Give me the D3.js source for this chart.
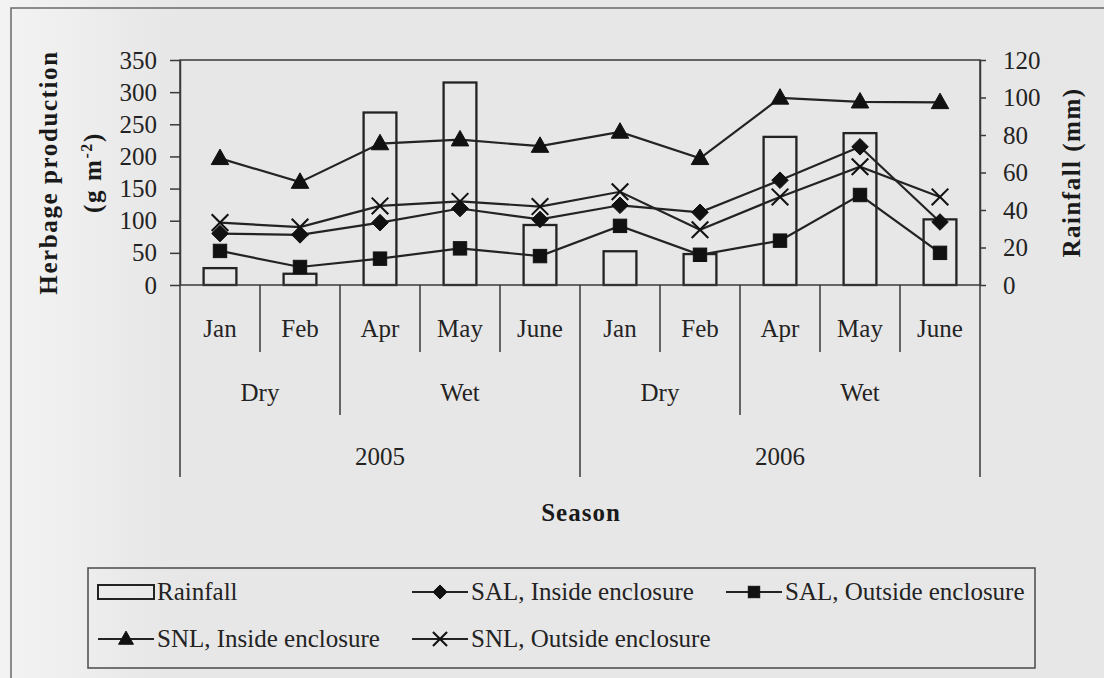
<!DOCTYPE html>
<html>
<head>
<meta charset="utf-8">
<script src="https://cdn.jsdelivr.net/npm/d3@7"></script>
<style>
  html, body { margin: 0; padding: 0; background: #e7e7e7; }
  svg { display: block; }
</style>
</head>
<body>
<svg id="chart" width="1104" height="678"></svg>
<script>
// ---- data ----
const months = ["Jan", "Feb", "Apr", "May", "June", "Jan", "Feb", "Apr", "May", "June"];
const seasonLabels = ["Dry", "Wet", "Dry", "Wet"];
const seasonSpans = [2, 3, 2, 3];
const yearLabels = ["2005", "2006"];
const yearSpans = [5, 5];

// rainfall (mm), right axis
const rainfall = [9, 6, 92, 108, 32, 18, 16.5, 79, 81, 35];
// herbage production (g m-2), left axis
const salInside  = [80, 78, 97, 119, 102, 124, 113, 163, 215, 98];
const salOutside = [53, 28, 41, 57, 45, 92, 47, 69, 140, 50];
const snlInside  = [197, 160, 220, 226, 216, 238, 197, 291, 285, 284];
const snlOutside = [97, 90, 123, 130, 122, 145, 86, 137, 184, 137];

const leftTicks = [0, 50, 100, 150, 200, 250, 300, 350];
const rightTicks = [0, 20, 40, 60, 80, 100, 120];
const seriesNames = ["SAL, Inside enclosure", "SAL, Outside enclosure", "SNL, Inside enclosure", "SNL, Outside enclosure"];

// ---- layout ----
const W = 1104, H = 678;
const plot = { left: 180, right: 980, top: 60, bottom: 285 };
const FONT = "'Liberation Serif', 'Times New Roman', serif";
const INK = "#232323";

const svg = d3.select("#chart");
const defs = svg.append("defs");

const fade = defs.append("linearGradient").attr("id", "leftFade")
  .attr("x1", "0").attr("x2", "1").attr("y1", "0").attr("y2", "0");
fade.append("stop").attr("offset", "0").attr("stop-color", "#f3f3f3").attr("stop-opacity", 1);
fade.append("stop").attr("offset", "0.4").attr("stop-color", "#f0f0f0").attr("stop-opacity", 0.8);
fade.append("stop").attr("offset", "1").attr("stop-color", "#e7e7e7").attr("stop-opacity", 0);

// background
svg.append("rect").attr("width", W).attr("height", H).attr("fill", "#e7e7e7");
svg.append("rect").attr("x", 0).attr("y", 0).attr("width", 200).attr("height", H)
  .attr("fill", "url(#leftFade)");

// outer frame of the figure
svg.append("path")
  .attr("d", `M11,${H} L11,8 L${W},8`)
  .attr("fill", "none").attr("stroke", "#6a6a6a").attr("stroke-width", 1.5);

// ---- scales ----
const x = d3.scaleBand().domain(d3.range(months.length)).range([plot.left, plot.right]).padding(0);
const bw = x.bandwidth();
const cx = i => x(i) + bw / 2;
const yL = d3.scaleLinear().domain([0, 350]).range([plot.bottom, plot.top]);
const yR = d3.scaleLinear().domain([0, 120]).range([plot.bottom, plot.top]);

// ---- rainfall bars ----
const barW = bw * 0.41;
svg.append("g").selectAll("rect").data(rainfall).join("rect")
  .attr("x", (d, i) => cx(i) - barW / 2)
  .attr("y", d => yR(d))
  .attr("width", barW)
  .attr("height", d => yR(0) - yR(d))
  .attr("fill", "none")
  .attr("stroke", INK).attr("stroke-width", 2.3);

// plot frame
svg.append("rect")
  .attr("x", plot.left).attr("y", plot.top)
  .attr("width", plot.right - plot.left).attr("height", plot.bottom - plot.top)
  .attr("fill", "none").attr("stroke", "#3a3a3a").attr("stroke-width", 1.5);

// ---- axes ----
function styleAxis(g) {
  g.select(".domain").attr("stroke", "#3a3a3a").attr("stroke-width", 1.5);
  g.selectAll(".tick line").attr("stroke", "#3a3a3a").attr("stroke-width", 1.5);
  g.selectAll(".tick text").attr("font-family", FONT).attr("font-size", 25).attr("fill", INK);
}
svg.append("g").attr("transform", `translate(${plot.left},0)`)
  .call(d3.axisLeft(yL).tickValues(leftTicks).tickSize(10).tickSizeOuter(0).tickPadding(13))
  .call(styleAxis);
svg.append("g").attr("transform", `translate(${plot.right},0)`)
  .call(d3.axisRight(yR).tickValues(rightTicks).tickSize(6).tickSizeOuter(0).tickPadding(17))
  .call(styleAxis);

// ---- markers ----
function marker(g, kind, px, py, s = 1) {
  if (kind === "triangle") {
    const h = 15.5 * s, w = 17.5 * s;
    g.append("path").attr("d", `M${px},${py - h * 0.6} L${px + w / 2},${py + h * 0.4} L${px - w / 2},${py + h * 0.4} Z`)
      .attr("fill", "#111").attr("stroke", "#111").attr("stroke-width", 1);
  } else if (kind === "diamond") {
    const r = 8.3 * s;
    g.append("path").attr("d", `M${px},${py - r} L${px + r},${py} L${px},${py + r} L${px - r},${py} Z`)
      .attr("fill", "#111").attr("stroke", "#111").attr("stroke-width", 1);
  } else if (kind === "square") {
    const r = 6.7 * s;
    g.append("rect").attr("x", px - r).attr("y", py - r).attr("width", 2 * r).attr("height", 2 * r)
      .attr("fill", "#111").attr("stroke", "#111").attr("stroke-width", 1);
  } else if (kind === "x") {
    const r = 8.3 * s;
    g.append("path").attr("d", `M${px - r},${py - r} L${px + r},${py + r} M${px - r},${py + r} L${px + r},${py - r}`)
      .attr("fill", "none").attr("stroke", "#111").attr("stroke-width", 2.1);
  }
}

const series = [
  { values: salInside,  kind: "diamond" },
  { values: salOutside, kind: "square" },
  { values: snlInside,  kind: "triangle" },
  { values: snlOutside, kind: "x" }
];
const line = d3.line().x((d, i) => cx(i)).y(d => yL(d));
series.forEach(s => {
  const g = svg.append("g");
  g.append("path").attr("d", line(s.values))
    .attr("fill", "none").attr("stroke", INK).attr("stroke-width", 2.2);
  s.values.forEach((v, i) => marker(g, s.kind, cx(i), yL(v)));
});

// ---- multi-level category axis ----
const cat = svg.append("g");
function sep(i, y2) {
  const sx = plot.left + i * bw;
  cat.append("line").attr("x1", sx).attr("x2", sx)
    .attr("y1", plot.bottom).attr("y2", y2)
    .attr("stroke", "#3a3a3a").attr("stroke-width", 1.5);
}
const seasonBounds = [0, ...Array.from(d3.cumsum(seasonSpans))];
const yearBounds = [0, ...Array.from(d3.cumsum(yearSpans))];
for (let i = 0; i <= months.length; i++) {
  if (yearBounds.includes(i)) sep(i, 477);
  else if (seasonBounds.includes(i)) sep(i, 415);
  else sep(i, 352);
}
const catText = sel => sel.attr("text-anchor", "middle").attr("font-family", FONT)
  .attr("font-size", 25).attr("fill", INK);
cat.selectAll("text.month").data(months).join("text").attr("class", "month")
  .attr("x", (d, i) => cx(i)).attr("y", 337)
  .call(catText).text(d => d);
cat.selectAll("text.season").data(seasonLabels).join("text").attr("class", "season")
  .attr("x", (d, i) => plot.left + (seasonBounds[i] + seasonBounds[i + 1]) / 2 * bw).attr("y", 401)
  .call(catText).text(d => d);
cat.selectAll("text.year").data(yearLabels).join("text").attr("class", "year")
  .attr("x", (d, i) => plot.left + (yearBounds[i] + yearBounds[i + 1]) / 2 * bw).attr("y", 465)
  .call(catText).text(d => d);

// ---- axis titles ----
const titleStyle = t => t.attr("font-family", FONT).attr("font-weight", "bold")
  .attr("font-size", 25).attr("fill", "#1a1a1a").attr("text-anchor", "middle");
const midY = (plot.top + plot.bottom) / 2;
svg.append("text").attr("transform", `translate(57,${midY}) rotate(-90)`)
  .call(titleStyle).attr("letter-spacing", 1.6).text("Herbage production");
const gm = svg.append("text").attr("transform", `translate(101,${midY}) rotate(-90)`)
  .call(titleStyle).attr("letter-spacing", 1.6);
gm.append("tspan").text("(g m");
gm.append("tspan").attr("dy", -9).attr("font-size", 16).text("-2");
gm.append("tspan").attr("dy", 9).text(")");
svg.append("text").attr("transform", `translate(1080,${midY}) rotate(-90)`)
  .call(titleStyle).attr("letter-spacing", 1.5).text("Rainfall (mm)");
svg.append("text").attr("x", 581).attr("y", 521)
  .call(titleStyle).attr("letter-spacing", 1).text("Season");

// ---- legend ----
const lg = svg.append("g");
lg.append("rect").attr("x", 88).attr("y", 568).attr("width", 947).attr("height", 100)
  .attr("fill", "none").attr("stroke", "#4a4a4a").attr("stroke-width", 1.5);
const legendText = (tx, ty, s) => lg.append("text").attr("x", tx).attr("y", ty)
  .attr("font-family", FONT).attr("font-size", 25).attr("fill", INK).text(s);

const colX = [98, 412, 726];
const rowY = [592, 639];
const symW = 56;

lg.append("rect").attr("x", colX[0]).attr("y", rowY[0] - 7).attr("width", symW).attr("height", 14)
  .attr("fill", "none").attr("stroke", INK).attr("stroke-width", 2);
legendText(colX[0] + symW + 3, rowY[0] + 8, "Rainfall");

const legendEntries = [
  { kind: "diamond",  idx: 0, col: 1, row: 0 },
  { kind: "square",   idx: 1, col: 2, row: 0 },
  { kind: "triangle", idx: 2, col: 0, row: 1 },
  { kind: "x",        idx: 3, col: 1, row: 1 }
];
legendEntries.forEach(e => {
  const x0 = colX[e.col], cy = rowY[e.row];
  lg.append("line").attr("x1", x0).attr("x2", x0 + symW).attr("y1", cy).attr("y2", cy)
    .attr("stroke", INK).attr("stroke-width", 2);
  marker(lg, e.kind, x0 + symW / 2, cy, 0.85);
  legendText(x0 + symW + 3, cy + 8, seriesNames[e.idx]);
});
</script>
</body>
</html>
